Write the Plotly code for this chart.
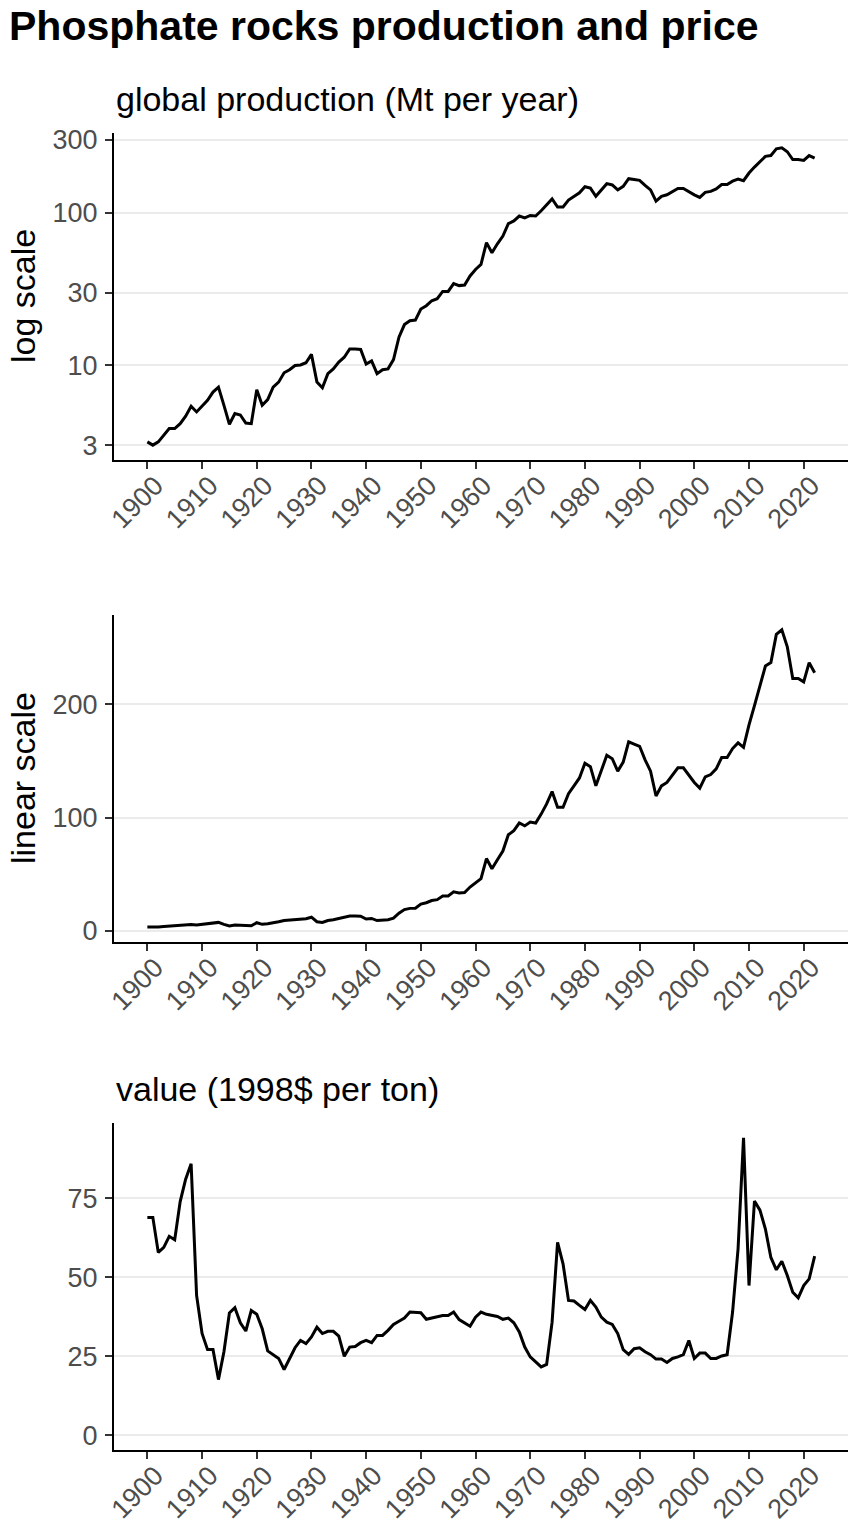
import math
import plotly.graph_objects as go

years = list(range(1900, 2023))

# global production of phosphate rock, Mt per year
production = [
    3.15, 3.0, 3.15, 3.49, 3.85, 3.85, 4.15, 4.64, 5.39, 4.95,
    5.39, 5.9, 6.68, 7.2, 5.47, 4.11, 4.83, 4.73, 4.19, 4.15,
    6.92, 5.47, 5.96, 7.2, 7.76, 8.94, 9.35, 9.97, 10.05, 10.4,
    11.8, 7.76, 7.13, 8.82, 9.48, 10.5, 11.3, 12.8, 12.8, 12.7,
    10.2, 10.7, 8.82, 9.35, 9.48, 10.9, 15.3, 18.5, 19.6, 19.8,
    23.4, 24.6, 26.5, 27.3, 30.5, 30.5, 34.3, 33.3, 33.6, 38.5,
    42.5, 45.9, 63.7, 54.7, 62.6, 70.3, 84.7, 88.3, 95.1, 92.6,
    96.0, 95.1, 103, 112, 123, 109, 109, 121, 128, 135,
    148, 145, 128, 142, 155, 152, 141, 149, 167, 165,
    163, 151, 141, 119, 128, 131, 137, 144, 144, 137,
    131, 126, 136, 138, 143, 153, 153, 161, 166, 162,
    182, 199, 217, 234, 237, 262, 266, 251, 223, 223,
    220, 237, 228,
]

# unit value, 1998 dollars per ton
value = [
    69.0, 69.0, 57.9, 59.5, 63.0, 61.9, 74.0, 81.1, 86.0, 44.3,
    32.2, 27.1, 27.1, 17.6, 26.4, 38.7, 40.4, 35.6, 33.0, 39.5,
    38.3, 33.7, 26.7, 25.5, 24.3, 20.8, 24.3, 27.7, 30.0, 29.0,
    31.1, 34.2, 32.2, 32.9, 32.9, 31.4, 25.0, 27.9, 28.1, 29.3,
    30.0, 29.3, 31.6, 31.6, 33.2, 35.1, 36.1, 37.1, 39.0, 38.8,
    38.8, 36.7, 37.1, 37.4, 37.9, 37.9, 39.0, 36.6, 35.5, 34.5,
    37.4, 39.0, 38.3, 37.9, 37.6, 36.7, 37.1, 35.6, 32.7, 27.9,
    24.8, 23.2, 21.6, 22.4, 35.8, 61.1, 54.3, 42.7, 42.5, 41.1,
    39.8, 42.7, 40.6, 37.4, 35.8, 35.1, 32.2, 27.1, 25.6, 27.4,
    27.7, 26.4, 25.5, 24.1, 24.1, 23.0, 24.3, 24.8, 25.5, 30.0,
    24.3, 26.0, 26.0, 24.3, 24.3, 25.1, 25.5, 39.0, 59.0, 94.2,
    47.4, 74.2, 71.3, 65.3, 56.3, 52.4, 55.1, 50.6, 45.3, 43.5,
    47.4, 49.5, 56.7,
]

x_ticks = list(range(1900, 2021, 10))
log_ticks = [3, 10, 30, 100, 300]
lin_ticks = [0, 100, 200]
val_ticks = [0, 25, 50, 75]

W, H = 848, 1524
FONT = "Liberation Sans, Arial, sans-serif"


def expand(lo, hi, f=0.05):
    d = (hi - lo) * f
    return [lo - d, hi + d]


xr = expand(min(years), max(years))
lg = [math.log10(v) for v in production]
ranges = [
    expand(min(lg), max(lg)),
    expand(min(production), max(production)),
    expand(0, max(value)),
]

# panel boxes in pixels (top, bottom)
panels = [(133, 460), (615, 942), (1123, 1450)]
left = 114

fig = go.Figure()
series = [production, production, value]
for i, ys in enumerate(series):
    k = "" if i == 0 else str(i + 1)
    fig.add_trace(go.Scatter(x=years, y=ys, mode="lines",
                             line=dict(color="black", width=3),
                             xaxis="x" + k, yaxis="y" + k, showlegend=False))

axis_common = dict(showline=True, linecolor="black", linewidth=2,
                   ticks="outside", ticklen=7, tickwidth=2, tickcolor="#333333",
                   tickfont=dict(family=FONT, size=27, color="#4D4D4D"),
                   zeroline=False, automargin=False)

layout = {}
ytickvals = [log_ticks, lin_ticks, val_ticks]
for i, (top, bot) in enumerate(panels):
    k = "" if i == 0 else str(i + 1)
    ydom = [1 - bot / H, 1 - top / H]
    layout["xaxis" + k] = dict(axis_common, domain=[left / W, 1], anchor="y" + k,
                               range=xr, tickvals=x_ticks, tickangle=-45,
                               showgrid=False, ticklabelshift=8,
                               ticklabelstandoff=-10)
    yax = dict(axis_common, domain=ydom, anchor="x" + k, range=ranges[i],
               tickvals=ytickvals[i], showgrid=True, gridcolor="#EBEBEB",
               gridwidth=1.8, ticklabelstandoff=2)
    if i == 0:
        yax["type"] = "log"
    layout["yaxis" + k] = yax

fig.update_layout(**layout)

ann = [
    dict(text="<b>Phosphate rocks production and price</b>", x=7 / W, y=1 - 26 / H,
         xanchor="left", yanchor="middle", font=dict(size=41, color="black")),
    dict(text="global production (Mt per year)", x=left / W, y=1 - 99 / H,
         xanchor="left", yanchor="middle", font=dict(size=34, color="black")),
    dict(text="value (1998$ per ton)", x=left / W, y=1 - 1089 / H,
         xanchor="left", yanchor="middle", font=dict(size=34, color="black")),
    dict(text="log scale", x=23 / W, y=1 - 296 / H, textangle=-90,
         xanchor="center", yanchor="middle", font=dict(size=34, color="black")),
    dict(text="linear scale", x=23 / W, y=1 - 778 / H, textangle=-90,
         xanchor="center", yanchor="middle", font=dict(size=34, color="black")),
]
for a in ann:
    a.update(xref="paper", yref="paper", showarrow=False)
    a["font"]["family"] = FONT

fig.update_layout(annotations=ann, width=W, height=H,
                  margin=dict(l=0, r=0, t=0, b=0, autoexpand=False),
                  paper_bgcolor="white", plot_bgcolor="white",
                  font=dict(family=FONT))

# the page body has an 8px margin by default; drop it so the figure sits at 0,0
fig.write_html("out.html", config={"displayModeBar": False},
               post_script="document.body.style.margin='0';")
